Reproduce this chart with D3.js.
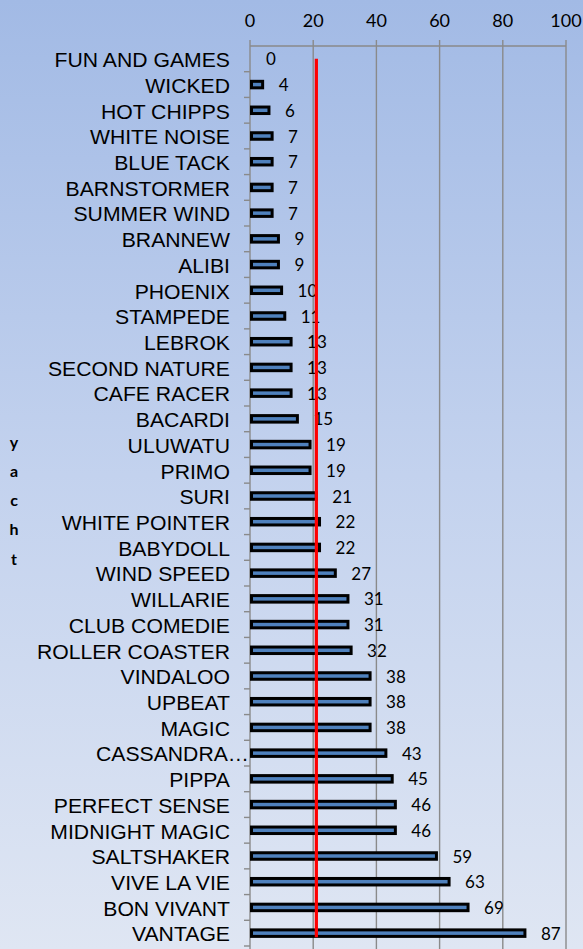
<!DOCTYPE html>
<html><head><meta charset="utf-8">
<script src="https://cdn.jsdelivr.net/npm/d3@7"></script>
<style>html,body{margin:0;padding:0;}svg{display:block;}</style>
</head><body>
<script>
const categories = ["FUN AND GAMES","WICKED","HOT CHIPPS","WHITE NOISE","BLUE TACK","BARNSTORMER","SUMMER WIND","BRANNEW","ALIBI","PHOENIX","STAMPEDE","LEBROK","SECOND NATURE","CAFE RACER","BACARDI","ULUWATU","PRIMO","SURI","WHITE POINTER","BABYDOLL","WIND SPEED","WILLARIE","CLUB COMEDIE","ROLLER COASTER","VINDALOO","UPBEAT","MAGIC","CASSANDRA…","PIPPA","PERFECT SENSE","MIDNIGHT MAGIC","SALTSHAKER","VIVE LA VIE","BON VIVANT","VANTAGE"];
const values = [0,4,6,7,7,7,7,9,9,10,11,13,13,13,15,19,19,21,22,22,27,31,31,32,38,38,38,43,45,46,46,59,63,69,87];
const xTicks = [0,20,40,60,80,100];
const referenceValue = 21;
const axisTitle = "yacht";

const W = 583, H = 949;
const svg = d3.select("body").append("svg").attr("width", W).attr("height", H);
const defs = svg.append("defs");
const grad = defs.append("linearGradient").attr("id","bg").attr("x1",0).attr("y1",0).attr("x2",0).attr("y2",1);
grad.append("stop").attr("offset","0%").attr("stop-color","#a2bae5");
grad.append("stop").attr("offset","50%").attr("stop-color","#c3d2ee");
grad.append("stop").attr("offset","100%").attr("stop-color","#dfe6f3");
svg.append("rect").attr("width",W).attr("height",H).attr("fill","url(#bg)");

const x = d3.scaleLinear().domain([0,100]).range([250,566]);
const y = d3.scaleBand().domain(categories).range([46,946]).padding(0);

// gridlines
svg.append("g").selectAll("line").data(xTicks).join("line")
  .attr("x1",d=>x(d)).attr("x2",d=>x(d)).attr("y1",40).attr("y2",H)
  .attr("stroke","#8a8a8a").attr("stroke-width",1.4);
// top axis line
svg.append("line").attr("x1",x(0)).attr("x2",x(100)).attr("y1",46).attr("y2",46)
  .attr("stroke","#8a8a8a").attr("stroke-width",1.4);
// tick labels
svg.append("g").selectAll("text").data(xTicks).join("text")
  .attr("x",d=>x(d)).attr("y",20).attr("text-anchor","middle").attr("dominant-baseline","central")
  .attr("font-family","Lato, 'Open Sans', sans-serif").attr("font-size",18).attr("fill","#000")
  .text(d=>d);

// left axis ticks at band boundaries
const bounds = categories.map(c=>y(c)+y.bandwidth());
svg.append("g").selectAll("line").data(bounds).join("line")
  .attr("x1",244).attr("x2",x(0)).attr("y1",d=>d).attr("y2",d=>d)
  .attr("stroke","#8a8a8a").attr("stroke-width",1.4);

// category labels
svg.append("g").selectAll("text").data(categories).join("text")
  .attr("transform",d=>`translate(${d.endsWith("…")?249:230},${y(d)+y.bandwidth()/2+1}) scale(1.06,1)`)
  .attr("text-anchor","end").attr("dominant-baseline","central")
  .attr("font-family","'Liberation Sans', Arial, sans-serif").attr("font-size",20).attr("fill","#000")
  .text(d=>d);

// bars
const bh = 6.5;
svg.append("g").selectAll("rect").data(categories).join("rect")
  .filter((d,i)=>values[i]>0)
  .attr("x",x(0)+1.5)
  .attr("y",d=>y(d)+y.bandwidth()/2-bh/2)
  .attr("width",d=>Math.max(0,x(values[categories.indexOf(d)])-x(0)-1.5))
  .attr("height",bh)
  .attr("fill","#4f81bd").attr("stroke","#000").attr("stroke-width",3);

// value labels
svg.append("g").selectAll("text").data(categories).join("text")
  .attr("x",(d,i)=>x(values[i])+16)
  .attr("y",d=>y(d)+y.bandwidth()/2)
  .attr("dominant-baseline","central")
  .attr("font-family","Lato, 'Open Sans', sans-serif").attr("font-size",17).attr("fill","#000")
  .text((d,i)=>values[i]);

// reference line
const yFirst = y(categories[0])+y.bandwidth()/2;
const yLast = y(categories[categories.length-1])+y.bandwidth()/2+4;
svg.append("line").attr("x1",x(referenceValue)).attr("x2",x(referenceValue))
  .attr("y1",yFirst).attr("y2",yLast).attr("stroke","#ff0000").attr("stroke-width",3.2);

// axis title stacked
svg.append("g").selectAll("text").data(axisTitle.split("")).join("text")
  .attr("x",14).attr("y",(d,i)=>441+i*29.3)
  .attr("text-anchor","middle").attr("dominant-baseline","central")
  .attr("font-family","Lato, 'Open Sans', sans-serif").attr("font-weight","bold").attr("font-size",16).attr("fill","#000")
  .text(d=>d);
</script>
</body></html>
